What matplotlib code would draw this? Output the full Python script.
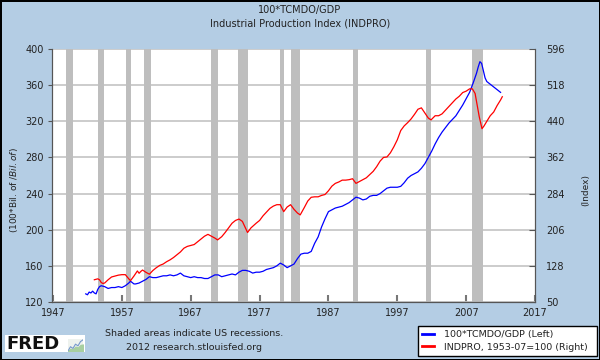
import matplotlib
matplotlib.use("Agg")
import matplotlib.pyplot as plt
from matplotlib.patches import Rectangle

# --- data ---
debt_years = [1951.75, 1952.0, 1952.25, 1952.5, 1952.75, 1953.0, 1953.25, 1953.5, 1953.75,
              1954.0, 1954.5, 1955.0, 1955.5, 1956.0, 1956.5, 1957.0, 1957.5, 1958.0, 1958.25,
              1958.75, 1959.0, 1959.5, 1960.0, 1960.5, 1961.0, 1961.5, 1962.0, 1962.5, 1963.0,
              1963.5, 1964.0, 1964.5, 1965.0, 1965.5, 1966.0, 1966.5, 1967.0, 1967.5, 1968.0,
              1968.5, 1969.0, 1969.5, 1970.0, 1970.5, 1971.0, 1971.5, 1972.0, 1972.5, 1973.0,
              1973.5, 1974.0, 1974.5, 1975.0, 1975.5, 1976.0, 1976.5, 1977.0, 1977.5, 1978.0,
              1978.5, 1979.0, 1979.5, 1980.0, 1980.5, 1981.0, 1981.5, 1982.0, 1982.5, 1983.0,
              1983.5, 1984.0, 1984.5, 1985.0, 1985.5, 1986.0, 1986.5, 1987.0, 1987.5, 1988.0,
              1988.5, 1989.0, 1989.5, 1990.0, 1990.5, 1991.0, 1991.5, 1992.0, 1992.5, 1993.0,
              1993.5, 1994.0, 1994.5, 1995.0, 1995.5, 1996.0, 1996.5, 1997.0, 1997.5, 1998.0,
              1998.5, 1999.0, 1999.5, 2000.0, 2000.5, 2001.0, 2001.5, 2002.0, 2002.5, 2003.0,
              2003.5, 2004.0, 2004.5, 2005.0, 2005.5, 2006.0, 2006.5, 2007.0, 2007.5, 2008.0,
              2008.5, 2008.75, 2009.0, 2009.25, 2009.5, 2009.75, 2010.0, 2010.5, 2011.0,
              2011.5, 2012.0]
debt_gdp = [129, 128, 131, 130, 132, 130, 129, 134, 137,
            138, 137, 135, 136, 136, 137, 136, 138, 141, 143,
            140, 140, 141, 143, 145, 148, 147, 147, 148, 149,
            149, 150, 149, 150, 152, 149, 148, 147, 148, 147,
            147, 146, 146, 148, 150, 150, 148, 149, 150, 151,
            150, 153, 155, 155, 154, 152, 153, 153, 154, 156,
            157, 158, 160, 163, 161, 158, 160, 162, 168, 173,
            174, 174, 176, 185, 192, 203, 212, 220, 222, 224,
            225, 226, 228, 230, 233, 236, 235, 233, 234, 237,
            238, 238, 240, 243, 246, 247, 247, 247, 248, 252,
            257, 260, 262, 264, 268, 273, 280, 287, 295, 302,
            308, 313, 318, 322, 326, 332, 338, 345, 352, 362,
            373, 380, 386, 384, 376, 368, 364, 361, 358,
            355, 352]

indpro_years = [1953.0, 1953.5, 1953.75, 1954.0, 1954.25, 1954.5, 1955.0, 1955.5, 1956.0,
                1956.5, 1957.0, 1957.5, 1958.0, 1958.25, 1958.75, 1959.25, 1959.5, 1959.75,
                1960.0, 1960.5, 1961.0, 1961.5, 1962.0, 1962.5, 1963.0, 1963.5, 1964.0,
                1964.5, 1965.0, 1965.5, 1966.0, 1966.5, 1967.0, 1967.5, 1968.0, 1968.5,
                1969.0, 1969.5, 1970.0, 1970.5, 1970.9, 1971.5, 1972.0, 1972.5, 1973.0,
                1973.5, 1974.0, 1974.5, 1975.0, 1975.25, 1975.75, 1976.5, 1977.0, 1977.5,
                1978.0, 1978.5, 1979.0, 1979.5, 1980.0, 1980.5, 1981.0, 1981.5, 1982.0,
                1982.5, 1982.9, 1983.5, 1984.0, 1984.5, 1985.0, 1985.5, 1986.0, 1986.5,
                1987.0, 1987.5, 1988.0, 1988.5, 1989.0, 1989.5, 1990.0, 1990.5, 1991.0,
                1991.5, 1992.0, 1992.5, 1993.0, 1993.5, 1994.0, 1994.5, 1995.0, 1995.5,
                1996.0, 1996.5, 1997.0, 1997.5, 1998.0, 1998.5, 1999.0, 1999.5, 2000.0,
                2000.5, 2001.0, 2001.5, 2001.9, 2002.5, 2003.0, 2003.5, 2004.0, 2004.5,
                2005.0, 2005.5, 2006.0, 2006.5, 2007.0, 2007.5, 2007.9, 2008.3, 2008.6,
                2008.9, 2009.3, 2009.6, 2010.0, 2010.5, 2011.0, 2011.5, 2012.0, 2012.25]
indpro = [98, 100, 98, 92, 90, 91, 98, 104, 106,
          108, 109, 109, 100, 96, 106, 117, 112, 116,
          119, 114, 110, 118, 124, 129, 132, 137, 141,
          146, 152, 158, 166, 170, 172, 174, 180, 186,
          192, 196, 192, 188, 184, 191, 200, 210, 220,
          226, 229, 224, 208, 200, 210, 220, 226, 236,
          244, 252, 257, 260, 260, 245, 255, 260, 250,
          242, 238, 254, 268, 276, 277, 277, 280, 282,
          290, 300, 306, 309, 313, 313, 314, 316, 306,
          310, 314, 318, 325, 332, 342, 354, 362, 363,
          372, 385, 400, 420, 430, 437, 445, 455, 466,
          469, 458, 447, 443, 452, 452, 456, 464, 472,
          480, 488, 494, 502, 505, 510, 510, 500, 475,
          450, 424, 430, 440, 452, 460, 474, 486, 493]

recessions = [(1948.83, 1949.83), (1953.5, 1954.42), (1957.58, 1958.33), (1960.25, 1961.17),
              (1969.92, 1970.92), (1973.83, 1975.25), (1980.0, 1980.58), (1981.5, 1982.92),
              (1990.5, 1991.25), (2001.17, 2001.92), (2007.92, 2009.5)]

x_ticks = [1947, 1957, 1967, 1977, 1987, 1997, 2007, 2017]
left_ticks = [120, 160, 200, 240, 280, 320, 360, 400]
right_ticks = [50, 128, 206, 284, 362, 440, 518, 596]

bg = "#B4CDE4"
txt = "#222222"

fig = plt.figure(figsize=(6, 3.6), dpi=100, facecolor=bg)
fig.patch.set_edgecolor("black")
fig.patch.set_linewidth(2)

ax = fig.add_axes([52 / 600, 1 - 302 / 360, 483 / 600, 253 / 360])
ax.set_facecolor("white")
ax.set_xlim(1946.85, 2017)
ax.set_ylim(120, 400)
ax.set_xticks(x_ticks)
ax.set_yticks(left_ticks)
ax.yaxis.grid(True, color="#C8C8C8", linewidth=1.3, zorder=0)
ax.set_axisbelow(True)

for start, end in recessions:
    ax.axvspan(start, end, color="#BEBEBE", lw=0, zorder=1)

ax.plot(debt_years, debt_gdp, color="#0000FF", lw=0.9, zorder=3,
        label="100*TCMDO/GDP (Left)")

ax2 = ax.twinx()
ax2.set_ylim(50, 596)
ax2.set_yticks(right_ticks)
ax2.plot(indpro_years, indpro, color="#FF0000", lw=0.9, zorder=3,
         label="INDPRO, 1953-07=100 (Right)")

for a in (ax, ax2):
    for s in a.spines.values():
        s.set_color("#555555")
    a.spines["top"].set_visible(False)
ax.tick_params(axis="x", direction="in", length=5, color="#777777", width=1.5,
               labelsize=7, labelcolor=txt, pad=4)
ax.tick_params(axis="y", direction="out", length=3, color="#555555",
               labelsize=7, labelcolor=txt, pad=3)
ax2.tick_params(axis="y", direction="in", length=4, color="#555555",
                labelsize=7, labelcolor=txt, pad=8)

# titles and axis labels
fig.text(0.5, 1 - 10 / 360, "100*TCMDO/GDP", ha="center", va="center", fontsize=7, color=txt)
fig.text(0.5, 1 - 24 / 360, "Industrial Production Index (INDPRO)", ha="center", va="center",
         fontsize=7, color=txt)
fig.text(14 / 600, 1 - 190 / 360, "(100*Bil. of $/Bil. of $)", rotation=90, ha="center",
         va="center", fontsize=6.5, color=txt)
fig.text(586 / 600, 1 - 190 / 360, "(Index)", rotation=90, ha="center", va="center",
         fontsize=6.5, color=txt)

# footer
fig.text(194 / 600, 1 - 334 / 360, "Shaded areas indicate US recessions.", ha="center",
         va="center", fontsize=6.8, color=txt)
fig.text(194 / 600, 1 - 347 / 360, "2012 research.stlouisfed.org", ha="center",
         va="center", fontsize=6.8, color=txt)

# FRED logo
fig.patches.append(Rectangle((5 / 600, 1 - 352 / 360), 80 / 600, 17 / 360, transform=fig.transFigure,
                             facecolor="white", edgecolor="none", zorder=1))
fig.text(6 / 600, 1 - 344 / 360, "FRED", ha="left", va="center", fontsize=13,
         fontweight="heavy", color="#111111", zorder=2)
logo_a = [0, 1, 0.6, 1.6, 1.2, 2.2, 2.6]
logo_b = [0, 0.5, 0.4, 1.0, 0.8, 1.4, 1.5]
lax = fig.add_axes([68 / 600, 1 - 351 / 360, 15 / 600, 12 / 360], zorder=5)
lax.set_facecolor("#EEF2EE")
lax.fill_between(range(len(logo_b)), logo_b, color="#A8CFA0")
lax.plot(logo_a, color="#7799CC", lw=0.8)
lax.set_xlim(0, len(logo_a) - 1)
lax.set_ylim(0, 2.8)
lax.set_xticks([])
lax.set_yticks([])
for s in lax.spines.values():
    s.set_visible(False)

h1, l1 = ax.get_legend_handles_labels()
h2, l2 = ax2.get_legend_handles_labels()
leg = fig.legend(h1 + h2, l1 + l2, loc="lower left",
                 bbox_to_anchor=(418 / 600, 4 / 360, 179 / 600, 31 / 360), mode="expand",
                 fontsize=6.8, frameon=True, fancybox=False, framealpha=1,
                 borderaxespad=0, handlelength=1.2, handletextpad=1.1, borderpad=0.45,
                 labelspacing=0.4)
leg.get_frame().set_edgecolor("black")
leg.get_frame().set_linewidth(1)
for line in leg.get_lines():
    line.set_linewidth(2)
for t in leg.get_texts():
    t.set_color(txt)

fig.savefig("out.png", dpi=100, facecolor=bg, edgecolor="black")
